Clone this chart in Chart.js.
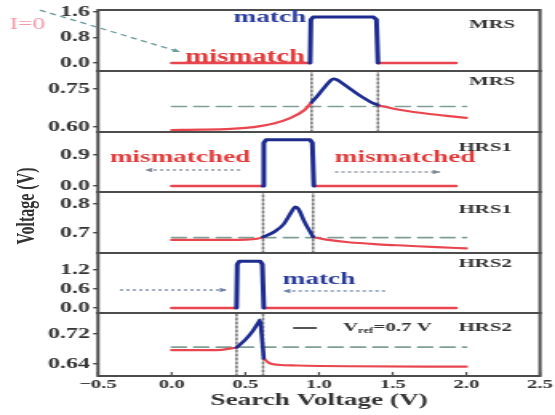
<!DOCTYPE html>
<html>
<head>
<meta charset="utf-8">
<script src="https://cdn.jsdelivr.net/npm/chart.js@4.4.0/dist/chart.umd.min.js"></script>
<style>
  html, body { margin: 0; padding: 0; background: #fff; overflow: hidden; }
  #page { position: relative; width: 555px; height: 415px; overflow: hidden; }
  #wrap { position: absolute; left: 0; top: 0; width: 347px; height: 415px; transform: scaleX(1.5994); transform-origin: 0 0; }
  .panel { position: absolute; left: 0; width: 347px; }
  #ytitle { position: absolute; left: 15.6px; top: 206px; transform: translate(-50%, -50%) rotate(-90deg);
            font: bold 16px "Liberation Serif", serif; color: #333; white-space: nowrap; }
</style>
</head>
<body>
<div id="page"><div id="wrap"><div id="ytitle">Voltage (V)</div></div></div>
<script>
// shared x axis
const xTicks = [-0.5, 0, 0.5, 1, 1.5, 2, 2.5];

// panel 1 - MRS, search line voltage
const mrsStepX = [0.94, 0.945, 0.96, 1.37, 1.39, 1.40];
const mrsStepY = [0, 1.36, 1.44, 1.44, 1.36, 0];
const mrsStepRedX = [0, 0.94, 0.94, 1.40, 1.93];
const mrsStepRedY = [0, 0, null, 0, 0];

// panel 2 - MRS, match line
const mrsRedX = [0, 0.2, 0.4, 0.5, 0.6, 0.7, 0.8, 0.9, 0.95, 0.95, 1.40, 1.5, 1.6, 1.7, 1.8, 1.9, 2.0];
const mrsRedY = [0.588, 0.589, 0.592, 0.596, 0.603, 0.615, 0.634, 0.666, 0.697, null, 0.686, 0.673, 0.663, 0.655, 0.648, 0.642, 0.636];
const mrsBlueX = [0.95, 1.0, 1.05, 1.08, 1.10, 1.12, 1.15, 1.2, 1.25, 1.3, 1.35, 1.40];
const mrsBlueY = [0.697, 0.73, 0.765, 0.784, 0.79, 0.787, 0.776, 0.755, 0.735, 0.716, 0.699, 0.686];
const mrsVref = 0.681;
const mrsCuts = [0.95, 1.40];

// panel 3 - HRS1, search line voltage
const hrs1StepX = [0.62, 0.625, 0.64, 0.94, 0.955, 0.965];
const hrs1StepY = [0, 1.25, 1.34, 1.34, 1.25, 0];
const hrs1StepRedX = [0, 0.62, 0.62, 0.965, 1.93];
const hrs1StepRedY = [0, 0, null, 0, 0];

// panel 4 - HRS1, match line
const hrs1RedX = [0, 0.3, 0.5, 0.58, 0.62, 0.62, 0.96, 1.05, 1.2, 1.4, 1.6, 1.8, 2.0];
const hrs1RedY = [0.676, 0.676, 0.677, 0.68, 0.686, null, 0.686, 0.677, 0.668, 0.661, 0.656, 0.651, 0.647];
const hrs1BlueX = [0.62, 0.7, 0.76, 0.81, 0.84, 0.86, 0.9, 0.96];
const hrs1BlueY = [0.686, 0.705, 0.73, 0.77, 0.79, 0.783, 0.74, 0.686];
const hrs1Vref = 0.684;
const hrs1Cuts = [0.62, 0.96];

// panel 5 - HRS2, search line voltage
const hrs2StepX = [0.44, 0.445, 0.46, 0.60, 0.615, 0.625];
const hrs2StepY = [0, 1.38, 1.48, 1.48, 1.38, 0];
const hrs2StepRedX = [0, 0.44, 0.44, 0.625, 1.93];
const hrs2StepRedY = [0, 0, null, 0, 0];

// panel 6 - HRS2, match line
const hrs2RedX = [0, 0.3, 0.44, 0.44, 0.625, 0.66, 0.72, 0.85, 1.2, 2.0];
const hrs2RedY = [0.677, 0.677, 0.684, null, 0.655, 0.643, 0.638, 0.636, 0.634, 0.633];
const hrs2BlueX = [0.44, 0.5, 0.55, 0.59, 0.60, 0.61, 0.625];
const hrs2BlueY = [0.684, 0.705, 0.728, 0.752, 0.758, 0.72, 0.655];
const hrs2Vref = 0.685;
const hrs2Cuts = [0.44, 0.62];

// y axes
const yMins = [-0.25, 0.580, -0.174, 0.631, -0.158, 0.608];
const yMaxs = [1.663, 0.821, 1.567, 0.841, 1.737, 0.776];
const yTickVals = [[0, 0.8, 1.6], [0.60, 0.75], [0, 0.9], [0.7, 0.8], [0, 0.6, 1.2], [0.64, 0.72]];
const yDecimals = [1, 2, 1, 1, 1, 2];

const BLUE = '#1d2b8f', RED = '#e8454f', VREF = '#7f9e96', CUT = '#7a7a7a';
const FRAME = '#4d4d4d', TXT = '#333', ARROW = '#6b7fa8';
const FONT = '"Liberation Serif", "Times New Roman", serif';

// layout in real page pixels, drawn in a canvas squeezed by K then stretched back
const K = 555 / 347;
const W = 347;
const PLOT_L = 98 / K, PLOT_R = 540 / K;
const tops = [10, 71, 132, 192, 253, 313, 376];
const PAD = 12;

// notes in data units of each panel
const notes = [
  [
    { text: 'match', x: 0.667, y: 1.44, size: 17, color: '#2a3c9c' },
    { text: 'mismatch', x: 0.498, y: 0.19, size: 18, color: '#e03a3a' },
    { text: 'MRS', x: 2.174, y: 1.19, size: 13, color: TXT },
    { text: 'I=0', x: -0.98, y: 1.19, size: 16, color: '#f39aaa', weight: 'normal' },
    { arrow: [-0.894, 1.66, 0.057, 0.344], color: '#6e9a9a', dash: [4, 3] }
  ],
  [
    { text: 'MRS', x: 2.174, y: 0.778, size: 13, color: TXT }
  ],
  [
    { text: 'mismatched', x: 0.057, y: 0.813, size: 17, color: '#e03a3a' },
    { arrow: [0.464, 0.465, -0.181, 0.465], color: '#7d8590', dash: [2, 2] },
    { text: 'mismatched', x: 1.584, y: 0.813, size: 17, color: '#e03a3a' },
    { arrow: [1.109, 0.407, 1.821, 0.407], color: '#7d8590', dash: [2, 2] },
    { text: 'HRS1', x: 2.127, y: 1.103, size: 13, color: TXT }
  ],
  [
    { text: 'HRS1', x: 2.127, y: 0.779, size: 13, color: TXT }
  ],
  [
    { text: 'HRS2', x: 2.127, y: 1.39, size: 13, color: TXT },
    { text: 'match', x: 1.0, y: 0.884, size: 17, color: '#2a3c9c' },
    { arrow: [1.448, 0.537, 0.756, 0.537], color: ARROW, dash: [2, 2] },
    { arrow: [-0.351, 0.568, 0.376, 0.568], color: ARROW, dash: [2, 2] }
  ],
  [
    { legend: [0.824, 0.986, 1.163], y: 0.736 },
    { text: 'HRS2', x: 2.127, y: 0.736, size: 13, color: TXT }
  ]
];

function pts(xs, ys) {
  return xs.map((v, i) => ({ x: v, y: ys[i] }));
}

function arrow(ctx, x1, y1, x2, y2, color, dash) {
  ctx.strokeStyle = color;
  ctx.fillStyle = color;
  ctx.lineWidth = 1.3;
  ctx.setLineDash(dash);
  ctx.beginPath(); ctx.moveTo(x1, y1); ctx.lineTo(x2, y2); ctx.stroke();
  ctx.setLineDash([]);
  const a = Math.atan2(y2 - y1, x2 - x1), h = 5;
  ctx.beginPath();
  ctx.moveTo(x2, y2);
  ctx.lineTo(x2 - h * Math.cos(a - 0.45), y2 - h * Math.sin(a - 0.45));
  ctx.lineTo(x2 - h * Math.cos(a + 0.45), y2 - h * Math.sin(a + 0.45));
  ctx.closePath(); ctx.fill();
}

function panelPlugin(idx, last) {
  return {
    id: 'panel' + idx,
    afterDraw(chart) {
      const { ctx, chartArea: a, scales: { x, y } } = chart;
      ctx.save();
      ctx.strokeStyle = FRAME;
      ctx.lineWidth = 2;
      ctx.strokeRect(a.left, a.top, a.right - a.left, a.bottom - a.top);
      if (last) {
        ctx.lineWidth = 1.2;
        xTicks.forEach(v => {
          const px = x.getPixelForValue(v);
          ctx.beginPath(); ctx.moveTo(px, a.bottom); ctx.lineTo(px, a.bottom - 4); ctx.stroke();
        });
      }
      notes[idx].forEach(n => {
        if (n.arrow) {
          const [x1, y1, x2, y2] = n.arrow;
          arrow(ctx, x.getPixelForValue(x1), y.getPixelForValue(y1),
                x.getPixelForValue(x2), y.getPixelForValue(y2), n.color, n.dash);
        } else if (n.legend) {
          const py = y.getPixelForValue(n.y);
          ctx.strokeStyle = '#444';
          ctx.lineWidth = 1.8;
          ctx.beginPath();
          ctx.moveTo(x.getPixelForValue(n.legend[0]), py);
          ctx.lineTo(x.getPixelForValue(n.legend[1]), py);
          ctx.stroke();
          let px = x.getPixelForValue(n.legend[2]);
          ctx.fillStyle = TXT;
          ctx.textBaseline = 'middle';
          ctx.textAlign = 'left';
          ctx.font = 'bold 13px ' + FONT;
          ctx.fillText('V', px, py);
          px += ctx.measureText('V').width;
          ctx.font = 'bold 8px ' + FONT;
          ctx.fillText('ref', px, py + 3);
          px += ctx.measureText('ref').width;
          ctx.font = 'bold 13px ' + FONT;
          ctx.fillText('=0.7 V', px, py);
        } else {
          ctx.fillStyle = n.color;
          ctx.font = (n.weight || 'bold') + ' ' + n.size + 'px ' + FONT;
          ctx.textAlign = 'center';
          ctx.textBaseline = 'middle';
          ctx.fillText(n.text, x.getPixelForValue(n.x), y.getPixelForValue(n.y));
        }
      });
      ctx.restore();
    }
  };
}

const panelData = [
  { step: true, bx: mrsStepX, by: mrsStepY, rx: mrsStepRedX, ry: mrsStepRedY },
  { step: false, bx: mrsBlueX, by: mrsBlueY, rx: mrsRedX, ry: mrsRedY, vref: mrsVref, cuts: mrsCuts },
  { step: true, bx: hrs1StepX, by: hrs1StepY, rx: hrs1StepRedX, ry: hrs1StepRedY },
  { step: false, bx: hrs1BlueX, by: hrs1BlueY, rx: hrs1RedX, ry: hrs1RedY, vref: hrs1Vref, cuts: hrs1Cuts },
  { step: true, bx: hrs2StepX, by: hrs2StepY, rx: hrs2StepRedX, ry: hrs2StepRedY },
  { step: false, bx: hrs2BlueX, by: hrs2BlueY, rx: hrs2RedX, ry: hrs2RedY, vref: hrs2Vref, cuts: hrs2Cuts }
];

const wrap = document.getElementById('wrap');

panelData.forEach((p, i) => {
  const last = i === panelData.length - 1;
  const top = tops[i] - PAD;
  const height = last ? 415 - top : tops[i + 1] - tops[i] + 2 * PAD;
  const div = document.createElement('div');
  div.className = 'panel';
  div.style.top = top + 'px';
  div.style.height = height + 'px';
  const canvas = document.createElement('canvas');
  canvas.width = W;
  canvas.height = height;
  div.appendChild(canvas);
  wrap.appendChild(div);

  const datasets = [
    {
      data: pts(p.bx, p.by), borderColor: BLUE, borderWidth: p.step ? 3 : 2.6,
      cubicInterpolationMode: p.step ? 'default' : 'monotone', tension: p.step ? 0 : 0.4
    },
    {
      data: pts(p.rx, p.ry), borderColor: RED, borderWidth: p.step ? 2.4 : 2.2,
      cubicInterpolationMode: p.step ? 'default' : 'monotone', tension: p.step ? 0 : 0.4
    }
  ];
  if (!p.step) {
    p.cuts.forEach(c => datasets.push({
      data: [{ x: c, y: yMins[i] }, { x: c, y: yMaxs[i] }],
      borderColor: CUT, borderWidth: 1.6, borderDash: [2, 2]
    }));
    datasets.push({
      data: [{ x: 0, y: p.vref }, { x: 2.0, y: p.vref }],
      borderColor: VREF, borderWidth: 1.6, borderDash: [9, 5]
    });
  }
  datasets.forEach(d => {
    d.pointRadius = 0;
    d.fill = false;
    d.spanGaps = false;
    d.borderJoinStyle = 'round';
    d.borderCapStyle = 'round';
  });

  new Chart(canvas, {
    type: 'line',
    data: { datasets },
    options: {
      responsive: false,
      animation: false,
      devicePixelRatio: 1,
      layout: { padding: { left: 0, right: W - PLOT_R, top: PAD, bottom: last ? 0 : PAD } },
      plugins: { legend: { display: false }, tooltip: { enabled: false } },
      scales: {
        x: {
          type: 'linear',
          min: -0.5,
          max: 2.5,
          display: last,
          afterBuildTicks: s => { s.ticks = xTicks.map(v => ({ value: v })); },
          afterFit: s => { if (last) s.height = 415 - tops[6]; },
          grid: { display: false, drawTicks: false },
          border: { display: false },
          ticks: {
            padding: 1,
            color: TXT,
            font: { family: FONT, size: 13, weight: 'bold' },
            callback: v => v.toFixed(1).replace('-', '\u2212')
          },
          title: {
            display: true,
            text: 'Search Voltage (V)',
            color: TXT,
            font: { family: FONT, size: 17, weight: 'bold' },
            padding: { top: 0, bottom: 4 }
          }
        },
        y: {
          type: 'linear',
          min: yMins[i],
          max: yMaxs[i],
          afterBuildTicks: s => { s.ticks = yTickVals[i].map(v => ({ value: v })); },
          afterFit: s => { s.width = PLOT_L; },
          grid: { drawOnChartArea: false, drawTicks: true, tickLength: 3, color: '#444', lineWidth: 1.4 },
          border: { display: false },
          ticks: {
            padding: 2,
            color: TXT,
            font: { family: FONT, size: 15, weight: 'bold' },
            callback: v => v.toFixed(yDecimals[i])
          }
        }
      }
    },
    plugins: [panelPlugin(i, last)]
  });
});
</script>
</body>
</html>
